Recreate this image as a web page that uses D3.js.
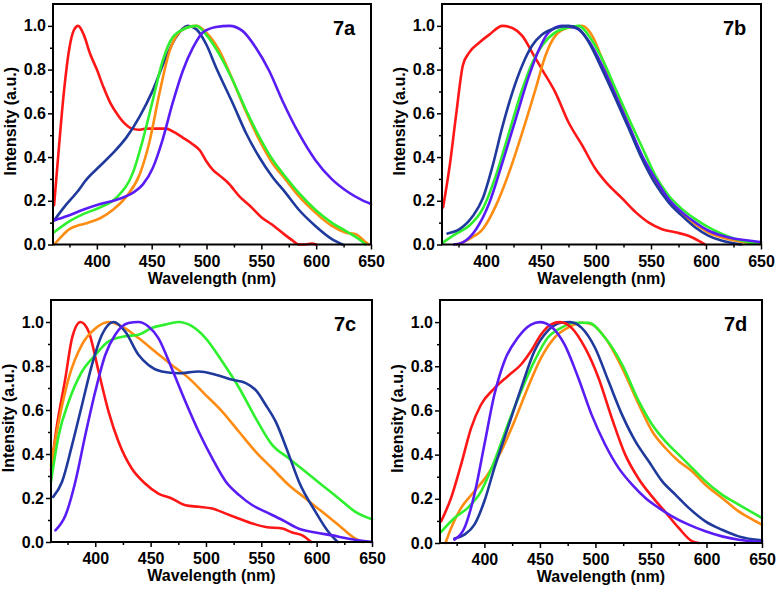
<!DOCTYPE html>
<html><head><meta charset="utf-8">
<script src="https://cdn.jsdelivr.net/npm/d3@7"></script>
<style>body{margin:0;background:#fff}svg{display:block}text{font-family:"Liberation Sans",Arial,sans-serif;font-weight:bold}</style>
</head><body>
<svg id="c" width="779" height="591"></svg>
<script>
// ---- data: [wavelength nm, normalised intensity] ----
const xTicks = [400,450,500,550,600,650];
const yTicks = [0,0.2,0.4,0.6,0.8,1.0];
const panelLabels = ["7a","7b","7c","7d"];
const seriesColors = {red:"#ff1616", orange:"#ff8c12", green:"#2ef02e", navy:"#1f3a9c", purple:"#5a1cf5"};

const a_red = [[361,0.18],[365,0.42],[370,0.7],[375,0.9],[379,0.98],[383,1.0],[388,0.96],[394,0.87],[400,0.8],[406,0.72],[412,0.65],[418,0.6],[425,0.555],[432,0.53],[438,0.525],[445,0.53],[455,0.53],[463,0.53],[470,0.515],[478,0.49],[487,0.46],[494,0.43],[500,0.38],[506,0.34],[512,0.315],[520,0.28],[530,0.22],[540,0.175],[550,0.125],[560,0.09],[570,0.05],[578,0.02],[584,0.0],[590,0.0],[596,0.004],[600,0.0]];
const a_navy = [[361,0.11],[370,0.17],[382,0.24],[391,0.30],[403,0.36],[415,0.42],[427,0.49],[439,0.585],[451,0.705],[463,0.856],[472,0.947],[483,1.0],[490.6,0.985],[499.6,0.917],[508.7,0.81],[524,0.645],[536,0.51],[548,0.40],[560,0.31],[572,0.237],[584,0.16],[599,0.086],[614,0.026],[624,0.0]];
const a_green = [[361,0.056],[373,0.1],[388,0.14],[403,0.17],[418,0.215],[433,0.33],[442,0.48],[451,0.66],[460,0.84],[469,0.947],[481.5,0.99],[490.6,1.0],[499.6,0.96],[511.7,0.87],[524,0.75],[536,0.615],[548,0.494],[560,0.39],[572,0.31],[584,0.237],[599,0.16],[614,0.1],[629,0.056],[638.5,0.026],[645,0.0]];
const a_orange = [[361,0.0],[367,0.033],[375,0.07],[385,0.09],[392,0.1],[403,0.12],[415,0.16],[427,0.22],[439,0.32],[448,0.47],[457,0.69],[466,0.88],[475,0.97],[484,0.995],[491,1.0],[499.6,0.97],[511.7,0.887],[524,0.75],[536,0.607],[548,0.48],[560,0.373],[572,0.298],[584,0.222],[599,0.147],[614,0.086],[626,0.056],[637,0.045],[644.6,0.012],[648,0.0]];
const a_purple = [[361,0.11],[373,0.13],[388,0.16],[403,0.185],[418,0.205],[433,0.237],[442,0.275],[451,0.35],[460,0.48],[469,0.645],[478.5,0.796],[487.6,0.9],[496.6,0.97],[508.7,0.995],[520.8,1.0],[532.8,0.977],[545,0.9],[557,0.796],[569,0.66],[584,0.51],[599,0.388],[614,0.3],[629,0.24],[641,0.205],[650,0.185]];

const b_red = [[361,0.17],[367,0.36],[373,0.6],[379,0.82],[385,0.88],[394,0.924],[403,0.96],[415,1.0],[424,0.99],[433,0.954],[442,0.878],[451,0.8],[463,0.696],[475,0.559],[487.6,0.452],[499.6,0.345],[511.7,0.27],[524,0.21],[536,0.148],[548,0.1],[560,0.07],[572,0.056],[584,0.04],[593,0.018],[599,0.0]];
const b_navy = [[365,0.05],[376,0.07],[388,0.13],[397,0.21],[406,0.36],[415,0.54],[424,0.696],[433,0.82],[442,0.91],[451,0.96],[463,0.99],[475,1.0],[484.5,0.985],[493.6,0.924],[505.7,0.8],[518,0.665],[530,0.528],[542,0.39],[554,0.277],[566,0.193],[578,0.132],[590,0.079],[602,0.041],[614,0.018],[632,0.0]];
const b_green = [[361,0.01],[373,0.05],[385,0.087],[397,0.163],[409,0.315],[421,0.513],[433,0.71],[442,0.83],[451,0.91],[463,0.97],[475,0.992],[484.5,1.0],[493.6,0.954],[505.7,0.848],[518,0.71],[530,0.574],[542,0.444],[554,0.315],[566,0.224],[578,0.163],[590,0.117],[602,0.079],[614,0.049],[626,0.026],[638.5,0.011],[650,0.004]];
const b_purple = [[371,0.0],[379,0.01],[391,0.07],[403,0.19],[415,0.376],[427,0.574],[439,0.77],[448,0.89],[457,0.97],[469,1.0],[481.5,0.99],[493.6,0.93],[505.7,0.817],[518,0.68],[530,0.543],[542,0.406],[554,0.3],[566,0.208],[578,0.148],[590,0.102],[602,0.064],[614,0.041],[626,0.026],[638.5,0.018],[650,0.011]];
const b_orange = [[374,0.0],[385,0.026],[397,0.07],[409,0.178],[421,0.33],[433,0.513],[445,0.71],[454,0.863],[463,0.954],[475,0.992],[487.6,1.0],[496.6,0.954],[505.7,0.848],[518,0.696],[530,0.543],[542,0.4],[554,0.292],[566,0.208],[578,0.14],[590,0.094],[602,0.056],[614,0.033],[626,0.018],[638.5,0.008],[650,0.003]];

const c_red = [[360,0.327],[365,0.517],[373,0.745],[379,0.927],[386.6,1.0],[394,0.957],[403,0.775],[412,0.593],[421,0.456],[433,0.334],[445,0.266],[457,0.22],[469,0.198],[481.5,0.167],[493.6,0.16],[505.7,0.152],[518,0.129],[530,0.106],[542,0.084],[554,0.068],[569,0.061],[578,0.043],[587,0.03],[595,0.0]];
const c_orange = [[360,0.35],[367,0.547],[376,0.745],[388,0.897],[400,0.97],[412,1.0],[424,0.98],[439,0.927],[454,0.866],[469,0.805],[484.5,0.745],[499.6,0.669],[514.7,0.593],[530,0.5],[545,0.41],[560,0.334],[575,0.258],[590,0.198],[605,0.137],[620,0.076],[635,0.015],[641.5,0.0]];
const c_green = [[360,0.274],[367,0.486],[376,0.638],[388,0.775],[400,0.85],[412,0.912],[427,0.935],[439,0.942],[451,0.973],[463,0.988],[475,1.0],[487.6,0.98],[499.6,0.927],[514.7,0.82],[530,0.7],[545,0.562],[560,0.44],[575,0.38],[590,0.319],[605,0.258],[620,0.198],[635,0.137],[650,0.103]];
const c_navy = [[362,0.205],[370,0.274],[379,0.44],[388,0.623],[397,0.805],[406,0.942],[416.6,1.0],[427,0.957],[439,0.851],[448,0.805],[460,0.775],[475,0.767],[493.6,0.775],[508.7,0.76],[524,0.737],[536,0.722],[545,0.69],[554,0.623],[563,0.547],[575,0.395],[584,0.274],[599,0.137],[610,0.05],[619,0.0]];
const c_purple = [[364,0.053],[373,0.12],[382,0.274],[391,0.486],[400,0.684],[409,0.85],[418,0.942],[430,0.995],[439,1.0],[448,0.98],[457,0.927],[469,0.79],[481.5,0.638],[493.6,0.5],[505.7,0.38],[518,0.274],[530,0.213],[542,0.167],[554,0.137],[569,0.1],[584,0.06],[599,0.043],[614,0.03],[629,0.015],[644.6,0.003],[650,0.0]];

const d_red = [[361,0.098],[370,0.204],[379,0.355],[388,0.52],[397,0.627],[409,0.7],[421,0.755],[433,0.808],[442,0.869],[451,0.944],[460,0.99],[468,1.0],[478.5,0.974],[490.6,0.884],[502.7,0.748],[514.7,0.566],[526.8,0.4],[539,0.29],[551,0.21],[563,0.14],[575,0.068],[587,0.008],[593,0.0]];
const d_purple = [[373,0.015],[382,0.068],[391,0.22],[400,0.446],[409,0.672],[418,0.823],[430,0.929],[442,0.989],[450,1.0],[460,0.98],[472,0.9],[484.5,0.748],[496.6,0.58],[508.7,0.446],[520.8,0.34],[533,0.264],[545,0.204],[557,0.159],[569,0.121],[584,0.083],[599,0.053],[614,0.03],[629,0.015],[650,0.005]];
const d_navy = [[373,0.02],[382,0.038],[391,0.083],[400,0.19],[409,0.34],[421,0.52],[433,0.7],[445,0.868],[457,0.96],[469,0.997],[477,1.0],[487.6,0.974],[499.6,0.884],[511.7,0.733],[524,0.58],[536,0.46],[548,0.37],[560,0.28],[572,0.219],[584,0.159],[599,0.098],[614,0.06],[629,0.03],[650,0.012]];
const d_orange = [[365,0.0],[370,0.068],[379,0.159],[391,0.234],[403,0.31],[415,0.415],[427,0.551],[439,0.702],[451,0.838],[463,0.929],[475,0.974],[487.6,0.997],[496.6,0.99],[508.7,0.929],[524,0.793],[539,0.627],[551,0.506],[563,0.43],[575,0.37],[587,0.325],[599,0.264],[614,0.204],[629,0.143],[641.5,0.106],[650,0.083]];
const d_green = [[361,0.05],[373,0.113],[385,0.159],[397,0.234],[409,0.37],[421,0.536],[433,0.687],[445,0.823],[457,0.929],[469,0.974],[481.5,0.997],[493.6,0.997],[508.7,0.929],[524,0.808],[539,0.642],[551,0.536],[563,0.46],[575,0.4],[587,0.34],[599,0.28],[614,0.219],[629,0.174],[650,0.113]];

const panels = [
  {label:panelLabels[0], box:[53,371,4,244.5], series:[["red",a_red],["navy",a_navy],["orange",a_orange],["green",a_green],["purple",a_purple]]},
  {label:panelLabels[1], box:[442,761,4,244.5], series:[["red",b_red],["orange",b_orange],["green",b_green],["purple",b_purple],["navy",b_navy]]},
  {label:panelLabels[2], box:[51,372,300,542], series:[["red",c_red],["orange",c_orange],["green",c_green],["navy",c_navy],["purple",c_purple]]},
  {label:panelLabels[3], box:[440,762,300,543], series:[["orange",d_orange],["green",d_green],["navy",d_navy],["red",d_red],["purple",d_purple]]}
];

const svg = d3.select("#c");
panels.forEach(p => {
  const [x0,x1,y0,y1] = p.box;
  const x = d3.scaleLinear().domain([360,650]).range([x0,x1]);
  const y = d3.scaleLinear().domain([0,1.1]).range([y1,y0]);
  const g = svg.append("g");
  const minorX = d3.range(375,650,50);
  const minorY = d3.range(0.1,1.1,0.2);
  g.append("g").attr("transform",`translate(0,${y1})`)
    .call(d3.axisBottom(x).tickValues(minorX).tickSize(3).tickFormat(""))
    .call(s=>{s.select(".domain").remove();s.selectAll("line").attr("stroke-width",1.5);});
  g.append("g").attr("transform",`translate(${x0},0)`)
    .call(d3.axisLeft(y).tickValues(minorY).tickSize(3).tickFormat(""))
    .call(s=>{s.select(".domain").remove();s.selectAll("line").attr("stroke-width",1.5);});
  g.append("g").attr("transform",`translate(0,${y1})`)
    .call(d3.axisBottom(x).tickValues(xTicks).tickSize(5).tickPadding(6).tickFormat(d3.format("d")))
    .call(s=>{s.select(".domain").remove();s.selectAll("line").attr("stroke-width",1.5);
      s.selectAll("text").attr("font-size",16).attr("fill","#000").style("font-family","Liberation Sans, Arial").style("font-weight","bold");});
  g.append("g").attr("transform",`translate(${x0},0)`)
    .call(d3.axisLeft(y).tickValues(yTicks).tickSize(5).tickPadding(2).tickFormat(d3.format(".1f")))
    .call(s=>{s.select(".domain").remove();s.selectAll("line").attr("stroke-width",1.5);
      s.selectAll("text").attr("font-size",16).attr("fill","#000").style("font-family","Liberation Sans, Arial").style("font-weight","bold");});
  const line = d3.line().x(d=>x(d[0])).y(d=>y(d[1])).curve(d3.curveMonotoneX);
  p.series.forEach(([c,data]) => {
    g.append("path").datum(data).attr("d",line).attr("fill","none")
      .attr("stroke",seriesColors[c]).attr("stroke-width",2.6).attr("stroke-linejoin","round").attr("stroke-linecap","round");
  });
  g.append("rect").attr("x",x0).attr("y",y0).attr("width",x1-x0).attr("height",y1-y0)
    .attr("fill","none").attr("stroke","#000").attr("stroke-width",2);
  g.append("text").attr("x",(x0+x1)/2).attr("y",y1+39).attr("text-anchor","middle").attr("font-size",16).text("Wavelength (nm)");
  g.append("text").attr("transform",`translate(${x0-37},${(y0+y1)/2-3}) rotate(-90)`).attr("text-anchor","middle").attr("font-size",16).text("Intensity (a.u.)");
  g.append("text").attr("x",x1-38).attr("y",y0+31).attr("font-size",20).text(p.label);
});
</script>
</body></html>
